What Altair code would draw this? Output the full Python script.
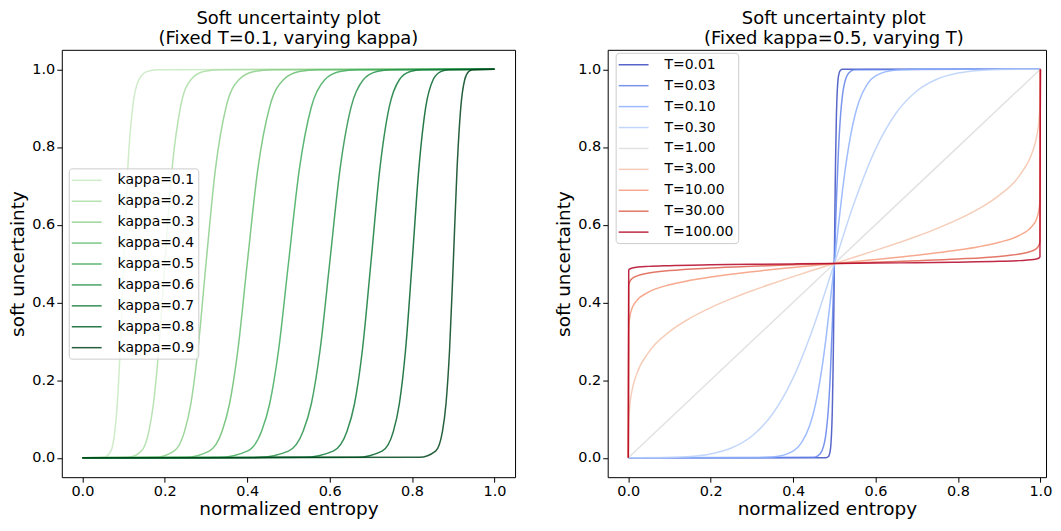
import altair as alt
import pandas as pd

# ---------------- left panel data (T = 0.1, varying kappa) ----------------
KAPPA_LABELS = ["kappa=0.1", "kappa=0.2", "kappa=0.3", "kappa=0.4", "kappa=0.5",
                "kappa=0.6", "kappa=0.7", "kappa=0.8", "kappa=0.9"]
KAPPA_Y = [0.0, 0.001, 0.017, 0.068, 0.139, 0.278, 0.5, 0.741, 0.903, 0.973, 0.994, 0.999, 1.0]
K01_X = [0, 0.0526, 0.0690, 0.0787, 0.0847, 0.0917, 0.1000, 0.1099, 0.1220, 0.1370, 0.1563, 0.1818, 1.0]
K02_X = [0, 0.1111, 0.1429, 0.1613, 0.1724, 0.1852, 0.2000, 0.2174, 0.2381, 0.2632, 0.2941, 0.3333, 1.0]
K03_X = [0, 0.1765, 0.2222, 0.2479, 0.2632, 0.2804, 0.3000, 0.3226, 0.3488, 0.3797, 0.4167, 0.4615, 1.0]
K04_X = [0, 0.2500, 0.3077, 0.3390, 0.3571, 0.3774, 0.4000, 0.4255, 0.4545, 0.4878, 0.5263, 0.5714, 1.0]
K05_X = [0, 0.3333, 0.4000, 0.4348, 0.4545, 0.4762, 0.5000, 0.5263, 0.5556, 0.5882, 0.6250, 0.6667, 1.0]
K06_X = [0, 0.4286, 0.5000, 0.5357, 0.5556, 0.5769, 0.6000, 0.6250, 0.6522, 0.6818, 0.7143, 0.7500, 1.0]
K07_X = [0, 0.5385, 0.6087, 0.6422, 0.6604, 0.6796, 0.7000, 0.7216, 0.7447, 0.7692, 0.7955, 0.8235, 1.0]
K08_X = [0, 0.6667, 0.7273, 0.7547, 0.7692, 0.7843, 0.8000, 0.8163, 0.8333, 0.8511, 0.8696, 0.8889, 1.0]
K09_X = [0, 0.8182, 0.8571, 0.8738, 0.8824, 0.8911, 0.9000, 0.9091, 0.9184, 0.9278, 0.9375, 0.9474, 1.0]
KAPPA_XS = [K01_X, K02_X, K03_X, K04_X, K05_X, K06_X, K07_X, K08_X, K09_X]
GREENS = ["#c7e9c0", "#aadda4", "#8bcf89", "#67be70", "#41ab5d",
          "#2a934b", "#127c39", "#006328", "#00441b"]

# ---------------- right panel data (kappa = 0.5, varying T) ----------------
T_LABELS = ["T=0.01", "T=0.03", "T=0.10", "T=0.30", "T=1.00",
            "T=3.00", "T=10.00", "T=30.00", "T=100.00"]
T001_X = [0, 0.48, 0.485, 0.49, 0.495, 0.497, 0.498, 0.499, 0.5, 0.501, 0.502, 0.503, 0.505, 0.51, 0.515, 0.52, 1.0]
T001_Y = [0, 0.0003, 0.0025, 0.018, 0.119, 0.2315, 0.31, 0.4013, 0.5, 0.5987, 0.69, 0.7685, 0.881, 0.982, 0.9975, 0.9997, 1.0]
T003_X = [0, 0.45, 0.46, 0.47, 0.48, 0.485, 0.49, 0.495, 0.5, 0.505, 0.51, 0.515, 0.52, 0.53, 0.54, 0.55, 1.0]
T003_Y = [0, 0.0012, 0.0048, 0.0179, 0.0649, 0.1191, 0.2085, 0.3392, 0.5, 0.6608, 0.7915, 0.8809, 0.9351, 0.9821, 0.9952, 0.9988, 1.0]
T010_X = [0, 0.3, 0.35, 0.4, 0.42, 0.44, 0.45, 0.46, 0.47, 0.48, 0.49, 0.5, 0.51, 0.52, 0.53, 0.54, 0.55, 0.56, 0.58, 0.6, 0.65, 0.7, 1.0]
T010_Y = [0, 0.0002, 0.0021, 0.0171, 0.0381, 0.0823, 0.1185, 0.1675, 0.2312, 0.3099, 0.4013, 0.5, 0.5987, 0.6901, 0.7688, 0.8325, 0.8815, 0.9177, 0.9619, 0.9829, 0.9979, 0.9998, 1.0]
T030_X = [0, 0.05, 0.1, 0.15, 0.2, 0.25, 0.3, 0.35, 0.4, 0.45, 0.5, 0.55, 0.6, 0.65, 0.7, 0.75, 0.8, 0.85, 0.9, 0.95, 1.0]
T030_Y = [0, 0.0001, 0.0007, 0.0031, 0.0098, 0.025, 0.056, 0.1127, 0.2056, 0.3387, 0.5, 0.6613, 0.7944, 0.8873, 0.944, 0.975, 0.9902, 0.9969, 0.9993, 0.9999, 1.0]
T1_X = [0, 0.5, 1.0]
T1_Y = [0, 0.5, 1.0]
T3_X = [0, 0.001, 0.003, 0.01, 0.02, 0.05, 0.1, 0.15, 0.2, 0.25, 0.3, 0.35, 0.4, 0.45, 0.5, 0.55, 0.6, 0.65, 0.7, 0.75, 0.8, 0.85, 0.9, 0.95, 0.98, 0.99, 0.997, 0.999, 1.0]
T3_Y = [0, 0.0909, 0.1262, 0.1777, 0.2146, 0.2726, 0.3247, 0.3593, 0.3865, 0.4095, 0.4299, 0.4486, 0.4663, 0.4833, 0.5, 0.5167, 0.5337, 0.5514, 0.5701, 0.5905, 0.6135, 0.6407, 0.6753, 0.7274, 0.7854, 0.8223, 0.8738, 0.9091, 1.0]
T10_X = [0, 0.001, 0.003, 0.01, 0.02, 0.05, 0.1, 0.15, 0.2, 0.3, 0.4, 0.5, 0.6, 0.7, 0.8, 0.85, 0.9, 0.95, 0.98, 0.99, 0.997, 0.999, 1.0]
T10_Y = [0, 0.3339, 0.3588, 0.3871, 0.4039, 0.4269, 0.4453, 0.4568, 0.4654, 0.4788, 0.4899, 0.5, 0.5101, 0.5212, 0.5346, 0.5432, 0.5547, 0.5731, 0.5961, 0.6129, 0.6412, 0.6661, 1.0]
T30_X = [0, 0.001, 0.003, 0.01, 0.02, 0.05, 0.1, 0.2, 0.3, 0.4, 0.5, 0.6, 0.7, 0.8, 0.9, 0.95, 0.98, 0.99, 0.997, 0.999, 1.0]
T30_Y = [0, 0.4427, 0.4518, 0.4618, 0.4676, 0.4755, 0.4817, 0.4884, 0.4929, 0.4966, 0.5, 0.5034, 0.5071, 0.5116, 0.5183, 0.5245, 0.5324, 0.5382, 0.5482, 0.5573, 1.0]
T100_X = [0, 0.001, 0.003, 0.01, 0.05, 0.1, 0.2, 0.3, 0.4, 0.5, 0.6, 0.7, 0.8, 0.9, 0.95, 0.99, 0.997, 0.999, 1.0]
T100_Y = [0, 0.4827, 0.4855, 0.4885, 0.4926, 0.4945, 0.4965, 0.4979, 0.4990, 0.5, 0.5010, 0.5021, 0.5035, 0.5055, 0.5074, 0.5115, 0.5145, 0.5173, 1.0]
T_XS = [T001_X, T003_X, T010_X, T030_X, T1_X, T3_X, T10_X, T30_X, T100_X]
T_YS = [T001_Y, T003_Y, T010_Y, T030_Y, T1_Y, T3_Y, T10_Y, T30_Y, T100_Y]
COOLWARM = ["#3b4cc0", "#6282ea", "#8db0fe", "#b8d0f9", "#dddddd",
            "#f5c4ac", "#f49a7b", "#de604d", "#b40426"]

TICKS = [0.0, 0.2, 0.4, 0.6, 0.8, 1.0]
FONT = "DejaVu Sans"

rows = []
for i, (lab, xs) in enumerate(zip(KAPPA_LABELS, KAPPA_XS)):
    for x, y in zip(xs, KAPPA_Y):
        rows.append({"x": x, "y": y, "series": lab, "k": i})
left_df = pd.DataFrame(rows)

rows = []
for i, (lab, xs, ys) in enumerate(zip(T_LABELS, T_XS, T_YS)):
    for x, y in zip(xs, ys):
        rows.append({"x": x, "y": y, "series": lab, "k": i})
right_df = pd.DataFrame(rows)


def panel(df, labels, colors, title, lx, ly, width, xmax, tdx):
    legend = alt.Legend(
        title=None, orient="none", legendX=lx, legendY=ly,
        symbolType="M-2.14,0H2.14", symbolSize=196, symbolStrokeWidth=1.5,
        symbolOffset=6, labelOffset=23, labelFontSize=14, labelFont=FONT,
        labelColor="black", rowPadding=6, padding=4,
        fillColor="rgba(255,255,255,0.8)", strokeColor="#cccccc", cornerRadius=3,
    )
    return alt.Chart(df).mark_line(
        interpolate="monotone", strokeWidth=1.5, opacity=0.85, clip=True
    ).encode(
        x=alt.X("x:Q", scale=alt.Scale(domain=[-0.05, xmax], nice=False, zero=False),
                axis=alt.Axis(values=TICKS, format=".1f", title="normalized entropy",
                              titlePadding=2)),
        y=alt.Y("y:Q", scale=alt.Scale(domain=[-0.05, 1.05], nice=False, zero=False),
                axis=alt.Axis(values=TICKS, format=".1f", title="soft uncertainty",
                              titlePadding=4)),
        color=alt.Color("series:N", scale=alt.Scale(domain=labels, range=colors),
                        legend=legend),
        order=alt.Order("k:Q"),
    ).properties(
        width=width, height=429,
        title=alt.TitleParams(title, fontSize=18, font=FONT, fontWeight="normal",
                              lineHeight=20, offset=2, color="black", anchor="middle",
                              dx=tdx),
    )


left = panel(left_df, KAPPA_LABELS, GREENS,
             ["Soft uncertainty plot", "(Fixed T=0.1, varying kappa)"], 7, 119, 455, 1.05, 0)
right = panel(right_df, T_LABELS, COOLWARM,
              ["Soft uncertainty plot", "(Fixed kappa=0.5, varying T)"], 8, 3, 440, 1.0137, 7)

chart = alt.hconcat(left, right, spacing=38).resolve_scale(
    color="independent"
).resolve_legend(color="independent").properties(
    padding={"left": 0, "top": 0, "right": 0, "bottom": 0}
).configure_axis(
    labelFont=FONT, labelFontSize=14.5, labelColor="black",
    titleFont=FONT, titleFontSize=18.5, titleFontWeight="normal", titleColor="black",
    tickColor="black", tickSize=5, tickWidth=1, domain=False, grid=False, labelPadding=2,
).configure_view(stroke="black", strokeWidth=1)

chart.save("out.html", embed_options={"renderer": "svg", "actions": False})
